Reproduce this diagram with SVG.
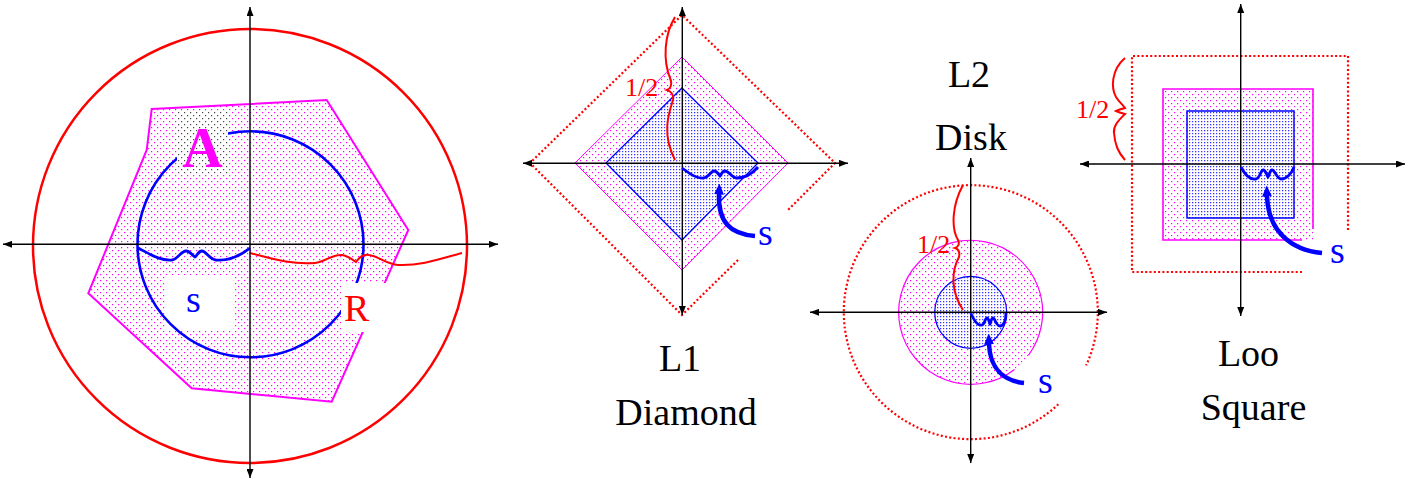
<svg xmlns="http://www.w3.org/2000/svg" width="1423" height="479" viewBox="0 0 1423 479">
<defs>
<pattern id="pm" width="6" height="6" patternUnits="userSpaceOnUse"><rect x="1" y="1" width="1.2" height="1.2" fill="#ff00ff"/><rect x="4" y="4" width="1.2" height="1.2" fill="#ff00ff"/></pattern>
<pattern id="pb" width="3" height="3" patternUnits="userSpaceOnUse"><rect x="1" y="1" width="1.2" height="1.2" fill="#2a3cff"/></pattern>
<pattern id="pk" width="6" height="6" patternUnits="userSpaceOnUse"><rect width="6" height="6" fill="#fff"/><rect x="1" y="1" width="1.2" height="1.2" fill="#444"/><rect x="4" y="4" width="1.2" height="1.2" fill="#444"/></pattern>
<marker id="ax" viewBox="0 0 9 7" refX="9" refY="3.5" markerWidth="9" markerHeight="7" markerUnits="userSpaceOnUse" orient="auto-start-reverse"><path d="M0,0 L9,3.5 L0,7 z" fill="#000"/></marker>
<marker id="ba" viewBox="0 0 11 10" refX="0.5" refY="5" markerWidth="11" markerHeight="10" markerUnits="userSpaceOnUse" orient="auto"><path d="M0,0 L11,5 L0,10 z" fill="#0000ff"/></marker>
<style>
.ax{stroke:#000;stroke-width:1.4;fill:none;marker-start:url(#ax);marker-end:url(#ax)}
.dot{stroke:#ff0000;stroke-width:2.2;stroke-dasharray:2 2.3;fill:none}
.br{stroke:#ff0000;stroke-width:2;fill:none}
.sc{stroke:#0000ff;stroke-width:2.8;fill:none}
.arr{stroke:#0000ff;stroke-width:4.5;fill:none;marker-end:url(#ba)}
.lbl{font-size:38px;fill:#000}
.s{font-size:38px;fill:#0000ff}
.h{font-size:26px;fill:#ff0000}
</style>
</defs>
<rect width="1423" height="479" fill="#fff"/>

<g id="general">
<circle cx="250" cy="246" r="217" fill="none" stroke="#ff0000" stroke-width="2.5"/>
<polygon points="151.7,109 326.7,100 408.3,230 331.7,401.7 191.7,388.3 88.3,293.3 146.7,150" fill="url(#pm)" stroke="#ff00ff" stroke-width="2"/>
<rect x="165" y="275" width="68" height="55" fill="#fff"/>
<circle cx="250.5" cy="244.3" r="113" fill="none" stroke="#0000ff" stroke-width="2.6"/>
<rect x="341" y="283" width="50" height="49" fill="#fff"/>
<rect x="177" y="111" width="51" height="62" fill="url(#pk)"/>
<path class="sc" d="M138,248 C150,254 160,261 172,260 C178,259 181,251 186,251 C190,251 193,256 195,257 C197,256 198,251 202,251 C206,251 209,259 216,260 C228,261 240,256 250,248"/>
<path d="M250,253 C270,258 290,265 315,263 C325,262 332,254 342,255 C348,256 352,259 356,262 C359,258 362,254 369,255 C378,256 386,264 398,265 C420,266 440,259 462,253" fill="none" stroke="#ff0000" stroke-width="2"/>
<path class="ax" d="M3,244.3 L498,244.3"/>
<path class="ax" d="M250,7 L250,478"/>
<text x="202.5" y="167" text-anchor="middle" font-family="Liberation Serif, Times New Roman, serif" font-size="56" font-weight="bold" fill="#ff00ff">A</text>
<text x="344" y="321" font-family="Liberation Serif, Times New Roman, serif" font-size="38" fill="#ff0000">R</text>
<text class="s" x="186" y="312" font-family="Liberation Serif, Times New Roman, serif">s</text>
</g>

<g id="diamond">
<polygon points="682,57 788,163 682,270 575,163" fill="url(#pm)" stroke="#ff00ff" stroke-width="1"/>
<polygon points="682,88 758,163 682,240 606,163" fill="url(#pb)" stroke="#0000ff" stroke-width="1.3"/>
<path class="dot" d="M738,260 L682,315 L530,163 L682,15 L835,163 L788,210"/>
<path class="ax" d="M523,163.3 L848,163.3"/>
<path class="ax" d="M682.3,7 L682.3,315"/>
<path class="br" d="M675,17 C664,35 663,60 670,78 C673,85 670,89 667,90 C670,91 674,94 673,100 C668,115 662,135 675,160"/>
<path class="sc" d="M682,168 C690,174 697,179 704,178 C709,177 711,171 714,171 C717,171 719,175 720,176 C721,175 722,171 725,171 C729,171 732,178 737,178 C745,178 752,174 758,167"/>
<text class="h" x="625" y="96" font-family="Liberation Serif, Times New Roman, serif">1/2</text>
<text class="s" x="758" y="245" font-family="Liberation Serif, Times New Roman, serif">s</text>
<text class="lbl" x="680" y="371" text-anchor="middle" font-family="Liberation Serif, Times New Roman, serif">L1</text>
<text class="lbl" x="686" y="425" text-anchor="middle" font-family="Liberation Serif, Times New Roman, serif">Diamond</text>
</g>

<g id="disk">
<circle cx="970.7" cy="312.3" r="72" fill="url(#pm)"/>
<path d="M1014.5,369.4 A72,72 0 1 1 1028.4,355.3" fill="none" stroke="#ff00ff" stroke-width="1.2"/>
<circle cx="970.7" cy="312.3" r="36" fill="url(#pb)" stroke="#0000ff" stroke-width="1.2"/>
<path class="dot" d="M1058.3,404.2 A127,127 0 1 1 1086.1,365.4"/>
<path class="ax" d="M810,312.3 L1107,312.3"/>
<path class="ax" d="M970.7,158 L970.7,463"/>
<path class="br" d="M963,185 C952,205 951,228 958,240 C960,244 958,247 955,248 C958,249 960,252 959,257 C951,272 951,292 963,310"/>
<path class="sc" d="M970.7,313 C974,320 977,326 982,325 C985,324 985,318 987,318 C989,318 989,323 990,324 C991,323 991,318 993,318 C995,318 996,326 1000,326 C1004,326 1006,320 1006,313"/>
<text class="h" x="917" y="253" font-family="Liberation Serif, Times New Roman, serif">1/2</text>
<text class="s" x="1038" y="393" font-family="Liberation Serif, Times New Roman, serif">s</text>
<text class="lbl" x="969" y="87" text-anchor="middle" font-family="Liberation Serif, Times New Roman, serif">L2</text>
<text class="lbl" x="971" y="150" text-anchor="middle" font-family="Liberation Serif, Times New Roman, serif">Disk</text>
</g>

<g id="square">
<rect x="1163" y="89" width="150" height="151" fill="url(#pm)"/>
<path d="M1302,240 L1163,240 L1163,89 L1313,89 L1313,229" fill="none" stroke="#ff00ff" stroke-width="1.6"/>
<rect x="1187" y="111" width="107" height="107" fill="url(#pb)" stroke="#0000ff" stroke-width="1.5"/>
<path class="dot" d="M1302,272 L1132,272 L1132,56 L1348,56 L1348,230"/>
<path class="ax" d="M1080,164 L1405,164"/>
<path class="ax" d="M1240.7,4 L1240.7,316"/>
<path class="br" d="M1125,58 C1111,70 1111,88 1116,97 C1119,102 1123,105 1125,108 C1121,109 1118,110 1116,111 C1118,112 1121,113 1125,114 C1120,119 1113,125 1114,133 C1115,145 1118,152 1125,160"/>
<path class="sc" d="M1241,167 C1245,175 1250,180 1256,179 C1260,178 1261,170 1263,170 C1266,170 1267,176 1268,177 C1269,176 1270,170 1272,170 C1275,170 1277,179 1281,179 C1287,179 1292,173 1294,167"/>
<text class="h" x="1076" y="118" font-family="Liberation Serif, Times New Roman, serif">1/2</text>
<text class="s" x="1330" y="263" font-family="Liberation Serif, Times New Roman, serif">s</text>
<text class="lbl" x="1248.5" y="366" text-anchor="middle" font-family="Liberation Serif, Times New Roman, serif">Loo</text>
<text class="lbl" x="1253.5" y="420" text-anchor="middle" font-family="Liberation Serif, Times New Roman, serif">Square</text>
</g>

<g id="connectors">
<path class="arr" d="M755,236 C730,234 718,222 719,194"/>
<path class="arr" d="M1024,383 C1005,381 990,370 989,344"/>
<path class="arr" d="M1322,253 C1290,250 1268,230 1267,196"/>
</g>
</svg>
